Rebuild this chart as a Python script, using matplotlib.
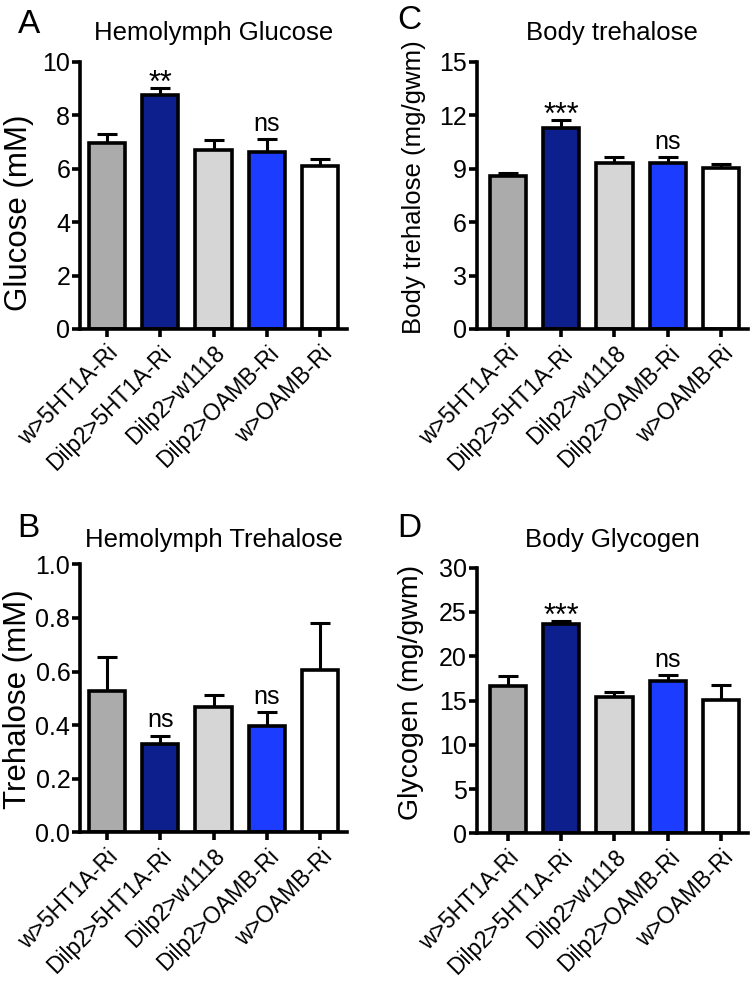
import numpy as np
import matplotlib
matplotlib.use('Agg')
from matplotlib import pyplot as plt

plt.rcParams['font.family'] = ['Liberation Sans', 'DejaVu Sans']

groups = ['w>5HT1A-Ri', 'Dilp2>5HT1A-Ri', 'Dilp2>w1118', 'Dilp2>OAMB-Ri', 'w>OAMB-Ri']
colors = ['#ababab', '#0c1f8c', '#d6d6d6', '#1c3cff', '#ffffff']

# hemolymph glucose (mM)
glucose = [6.95, 8.75, 6.70, 6.63, 6.10]
glucose_err = [0.35, 0.28, 0.37, 0.47, 0.28]
# hemolymph trehalose (mM)
hemo_tre = [0.527, 0.328, 0.468, 0.398, 0.604]
hemo_tre_err = [0.128, 0.033, 0.044, 0.050, 0.176]
# body trehalose (mg/gwm)
body_tre = [8.57, 11.30, 9.33, 9.33, 9.03]
body_tre_err = [0.20, 0.44, 0.32, 0.32, 0.25]
# body glycogen (mg/gwm)
glycogen = [16.65, 23.65, 15.35, 17.15, 15.05]
glycogen_err = [1.15, 0.30, 0.60, 0.70, 1.65]

# px positions measured on a 755x983 canvas
W, H = 755.0, 983.0
panels = [
    # letter, title, ylabel, vals, errs, ymax, yticks, ticklabels, marks,
    # (left, right, top, bottom) px, x0, title pad, letter xy, ylabel (size, x, y)
    ('A', 'Hemolymph Glucose', 'Glucose (mM)', glucose, glucose_err, 10,
     [0, 2, 4, 6, 8, 10], None, {1: '**', 3: 'ns'},
     (80, 347, 62, 329), -0.5, 15.5, (18, 33), (22.5, -0.172, 0.434)),
    ('B', 'Hemolymph Trehalose', 'Trehalose (mM)', hemo_tre, hemo_tre_err, 1.0,
     [0, 0.2, 0.4, 0.6, 0.8, 1.0], ['0.0', '0.2', '0.4', '0.6', '0.8', '1.0'],
     {1: 'ns', 3: 'ns'}, (80, 347, 564.3, 832.3), -0.5, 12.5, (17, 537),
     (22.5, -0.176, 0.497)),
    ('C', 'Body trehalose', 'Body trehalose (mg/gwm)', body_tre, body_tre_err, 15,
     [0, 3, 6, 9, 12, 15], None, {1: '***', 3: 'ns'},
     (476.7, 748, 61.7, 329), -0.58, 15.5, (397, 29), (18.5, -0.187, 0.53)),
    ('D', 'Body Glycogen', 'Glycogen (mg/gwm)', glycogen, glycogen_err, 30,
     [0, 5, 10, 15, 20, 25, 30], None, {1: '***', 3: 'ns'},
     (476.7, 748, 567.7, 833.3), -0.58, 15, (397, 537), (20.5, -0.194, 0.53)),
]

fig = plt.figure(figsize=(7.55, 9.83), dpi=100)
x = np.arange(len(groups))

for letter, title, ylab, vals, errs, ymax, yt, ytl, marks, box, x0, tpad, lxy, yl in panels:
    l, r, t, b = box
    ax = fig.add_axes([l / W, 1 - b / H, (r - l) / W, (b - t) / H])
    ax.errorbar(x, vals, yerr=[np.zeros(len(vals)), errs], fmt='none',
                ecolor='black', elinewidth=2.2, capsize=7, capthick=2.2, zorder=1)
    ax.bar(x, vals, width=0.68, color=colors, edgecolor='black', linewidth=2.6, zorder=2)
    for i, s in marks.items():
        if '*' in s:
            ax.annotate(s, (x[i], vals[i] + errs[i]), xytext=(0, -8), textcoords='offset points',
                        ha='center', va='bottom', fontsize=22)
        else:
            ax.annotate(s, (x[i], vals[i] + errs[i]), xytext=(0, 2.5), textcoords='offset points',
                        ha='center', va='bottom', fontsize=18)
    ax.set_xlim(x0, 4.5)
    ax.set_ylim(0, ymax)
    ax.set_yticks(yt)
    if ytl:
        ax.set_yticklabels(ytl)
    ax.set_xticks(x)
    ax.set_xticklabels(groups, rotation=45, ha='right', rotation_mode='anchor')
    for sp in ['top', 'right']:
        ax.spines[sp].set_visible(False)
    for sp in ['left', 'bottom']:
        ax.spines[sp].set_linewidth(2.6)
    ax.tick_params(axis='y', labelsize=18, width=2.6, length=6, pad=1)
    ax.tick_params(axis='x', labelsize=16.5, width=2.6, length=6, pad=3)
    ax.set_ylabel(ylab, fontsize=yl[0])
    ax.yaxis.set_label_coords(yl[1], yl[2])
    ax.set_title(title, fontsize=18.5, pad=tpad)
    fig.text(lxy[0] / W, 1 - lxy[1] / H, letter, fontsize=24, ha='left', va='baseline')

plt.savefig('out.png', dpi=100)
